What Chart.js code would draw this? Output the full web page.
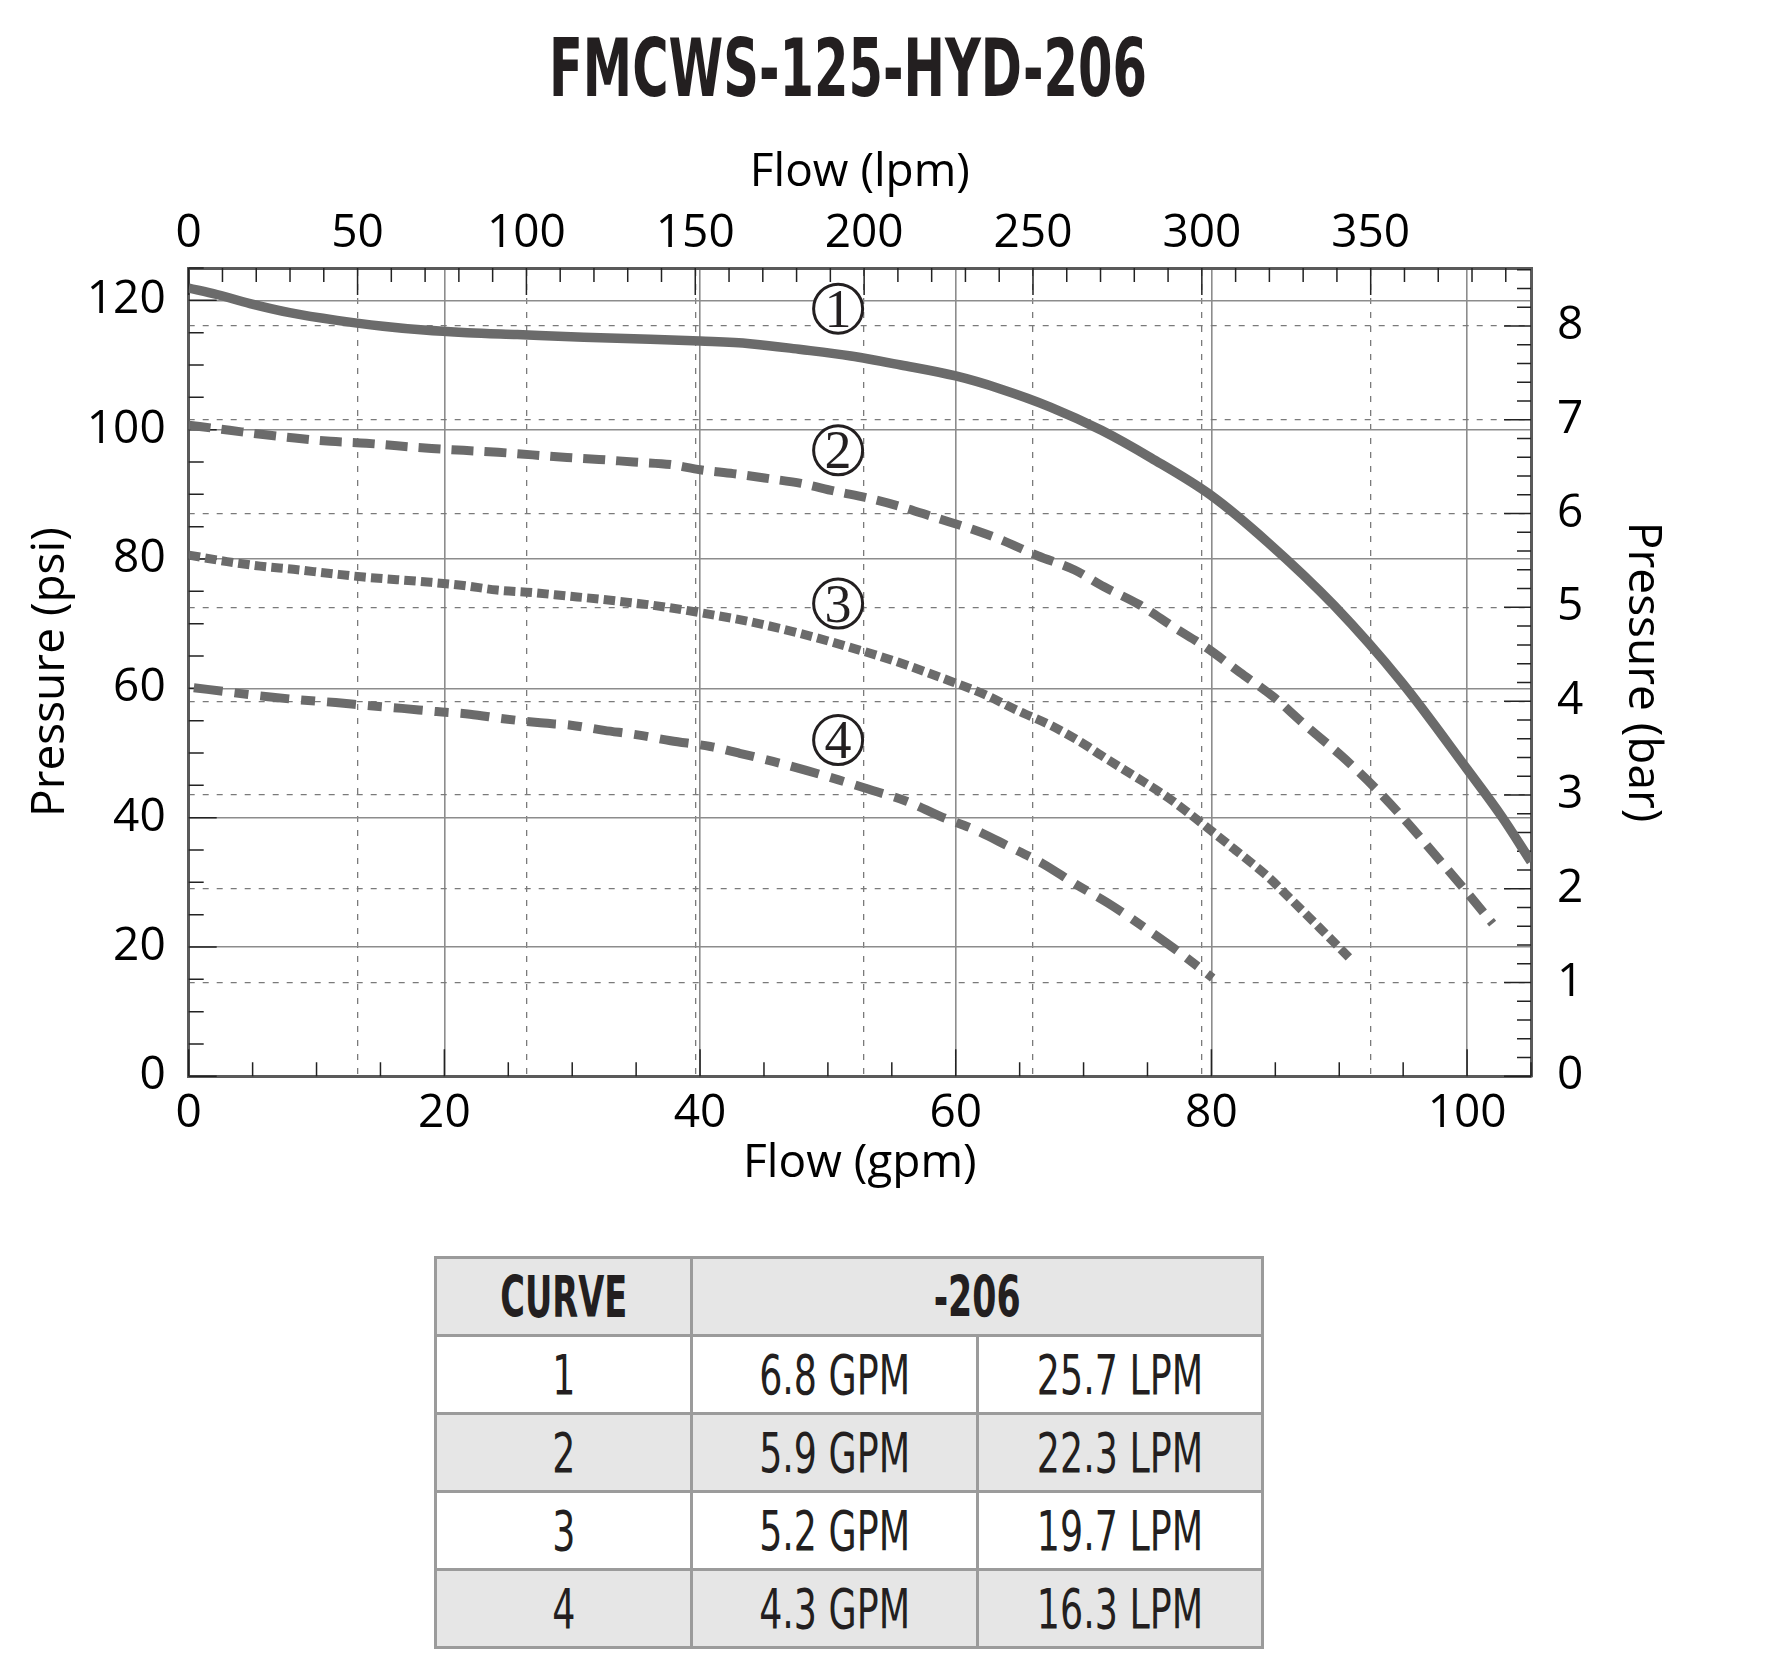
<!DOCTYPE html>
<html>
<head>
<meta charset="utf-8">
<title>FMCWS-125-HYD-206</title>
<script src="https://cdn.jsdelivr.net/npm/chart.js@4.4.1/dist/chart.umd.min.js"></script>
<style>
    body { margin: 0; background: #fff; width: 1771px; height: 1659px; position: relative; overflow: hidden; }
    #title { position: absolute; left: 848px; top: 28px; font: bold 81px 'Liberation Sans Narrow', 'DejaVu Sans Condensed', sans-serif; line-height: 1; color: #231f20; white-space: nowrap; transform-origin: center; }
    #chartBox { position: absolute; left: 0; top: 0; width: 1771px; height: 1220px; }
    #curveTable { position: absolute; left: 434px; top: 1256px; width: 827px; border-collapse: collapse; table-layout: fixed; color: #231f20; }
    #curveTable td { border: 3px solid #9b9b9b; padding: 0; height: 75px; text-align: center; vertical-align: middle; line-height: 1; font: 55px 'Liberation Sans Narrow', 'DejaVu Sans Condensed', sans-serif; }
    #curveTable tr.shade td { background: #e6e6e6; }
    #curveTable tr.head td { font-weight: bold; font-size: 57px; }
    #curveTable span { display: inline-block; white-space: nowrap; transform-origin: center; }
</style>
</head>
<body>
<div id="title">FMCWS-125-HYD-206</div>
<div id="chartBox"><canvas id="pumpChart" width="1771" height="1220"></canvas></div>
<table id="curveTable">
    <colgroup><col style="width:256px"><col style="width:286px"><col style="width:285px"></colgroup>
    <tbody id="tableBody"></tbody>
</table>
<script>
// Eixos
const gpmTicks = [0, 20, 40, 60, 80, 100];
const lpmTicks = [0, 50, 100, 150, 200, 250, 300, 350];
const psiTicks = [0, 20, 40, 60, 80, 100, 120];
const barTicks = [0, 1, 2, 3, 4, 5, 6, 7, 8];
const GPM_MAX = 105;
const PSI_MAX = 125;
const LPM_PER_GPM = 3.78541;
const PSI_PER_BAR = 14.5038;

// Curva 1 (contínua)
const curve1Gpm = [0, 2.2, 4.8, 7.9, 11.6, 15.2, 18.4, 21.8, 25.7, 30.9, 36.1, 40, 43.9, 47.9, 51.8, 55.7, 60, 63.5, 67.4, 71.4, 75.3, 80, 84.4, 89.6, 94.9, 100, 102.7, 105];
const curve1Psi = [121.9, 120.9, 119.5, 118.1, 116.9, 116.0, 115.4, 115.0, 114.7, 114.3, 114.0, 113.7, 113.3, 112.4, 111.4, 110.0, 108.3, 106.3, 103.5, 99.9, 95.6, 89.8, 82.6, 72.8, 60.9, 47.5, 40.2, 33.2];

// Curva 2 (tracejada)
const curve2Gpm = [0, 3.2, 6.0, 8.3, 11.1, 13.9, 16.3, 19.0, 21.5, 24.2, 26.9, 29.6, 32.1, 34.8, 37.7, 40, 42.6, 45.5, 47.9, 50.5, 53.2, 55.7, 58.4, 61.3, 63.5, 66.4, 69.3, 71.6, 74.3, 77.1, 79.6, 82.2, 84.9, 87.4, 90.2, 92.9, 95.3, 97.6, 99.8, 102.0];
const curve2Psi = [100.7, 99.9, 99.2, 98.7, 98.2, 97.9, 97.5, 97.1, 96.8, 96.5, 96.1, 95.7, 95.4, 95.0, 94.6, 93.8, 93.2, 92.4, 91.7, 90.5, 89.4, 88.1, 86.4, 84.6, 83.0, 80.5, 78.3, 75.7, 73.0, 69.4, 66.3, 62.5, 58.6, 54.2, 49.5, 44.4, 39.3, 34.0, 28.9, 23.6];

// Curva 3 (pontilhada)
const curve3Gpm = [0, 3.0, 5.6, 8.2, 10.9, 13.7, 16.3, 18.9, 21.5, 24.1, 26.9, 29.5, 32.1, 34.8, 36.1, 40, 43.9, 47.6, 51.8, 55.4, 59.6, 62.2, 64.8, 67.5, 70.1, 71.4, 74.0, 76.6, 79.2, 81.8, 84.4, 86.0, 88.5, 91.0];
const curve3Psi = [80.6, 79.6, 78.9, 78.4, 77.8, 77.2, 76.8, 76.4, 75.9, 75.2, 74.8, 74.3, 73.8, 73.2, 72.9, 71.7, 70.3, 68.6, 66.3, 64.1, 61.1, 59.1, 56.6, 54.2, 51.3, 49.6, 46.4, 43.1, 39.2, 35.1, 30.9, 27.8, 22.9, 17.9];

// Curva 4 (traço-ponto)
const curve4Gpm = [0.4, 3.6, 6.2, 8.8, 11.5, 14.2, 16.7, 19.4, 22.0, 24.6, 27.3, 29.9, 32.5, 35.1, 37.7, 40.8, 43.0, 45.7, 48.3, 50.9, 53.5, 56.2, 58.8, 61.3, 64.1, 66.8, 69.3, 71.9, 74.7, 77.4, 80.1];
const curve4Psi = [60.1, 59.3, 58.7, 58.2, 57.8, 57.3, 56.9, 56.4, 56.0, 55.3, 54.7, 54.3, 53.5, 52.8, 51.9, 51.0, 50.0, 48.7, 47.3, 45.8, 44.2, 42.5, 40.2, 38.3, 35.6, 32.9, 29.8, 26.8, 23.1, 19.3, 15.2];

// Marcadores das curvas
const curveNames = ['1', '2', '3', '4'];
const markerGpm = [50.8, 50.8, 50.8, 50.8];
const markerPsi = [118.7, 96.8, 73.1, 52.0];

// Tabela
const tableCurves = ['1', '2', '3', '4'];
const tableGpm = ['6.8 GPM', '5.9 GPM', '5.2 GPM', '4.3 GPM'];
const tableLpm = ['25.7 LPM', '22.3 LPM', '19.7 LPM', '16.3 LPM'];

const FONT = "'Open Sans', 'Noto Sans', sans-serif";
const CURVE_COLOR = '#6b6b6b';
const SOLID_GRID = '#8c8c8c';
const DASH_GRID = '#7a7a7a';
const FRAME = '#5a5a5a';

document.addEventListener('DOMContentLoaded', function() {
    buildTable();
    fitTexts();
    initChart();
});

function toPoints(xs, ys) {
    return xs.map((x, i) => ({ x: x, y: ys[i] }));
}

function fixedSize(size) {
    return function(scale) {
        if (scale.isHorizontal()) {
            scale.height = size;
        } else {
            scale.width = size;
        }
    };
}

function setTicks(values) {
    return function(scale) {
        scale.ticks = values.map(v => ({ value: v }));
    };
}

function axis(position, min, max, ticks, size, title, titlePad, tickPad, gridColor, dash) {
    return {
        type: 'linear',
        position: position,
        min: min,
        max: max,
        afterBuildTicks: setTicks(ticks),
        afterFit: fixedSize(size),
        grid: { color: gridColor, lineWidth: dash ? 1.3 : 1.6, drawTicks: false },
        border: { color: FRAME, width: 3, dash: dash || [] },
        ticks: { color: '#000', padding: tickPad, maxRotation: 0, autoSkip: false, font: { family: FONT, size: 46, lineHeight: 1.2 } },
        title: { display: true, text: title, color: '#000', padding: titlePad, font: { family: FONT, size: 46, lineHeight: 1.2 } }
    };
}

// Marcas de escala voltadas para dentro
const axisTicksPlugin = {
    id: 'axisTicks',
    beforeDatasetsDraw(chart) {
        const { ctx, chartArea: a, scales } = chart;
        ctx.save();
        ctx.strokeStyle = '#222';
        ctx.lineWidth = 1.5;
        ctx.beginPath();
        for (let i = 0; i * 5 <= PSI_MAX; i++) {
            const y = scales.y.getPixelForValue(i * 5);
            ctx.moveTo(a.left, y);
            ctx.lineTo(a.left + (i % 4 === 0 ? 28 : 15), y);
        }
        for (let i = 0; i * 0.2 <= PSI_MAX / PSI_PER_BAR; i++) {
            const y = scales.y2.getPixelForValue(i * 0.2);
            ctx.moveTo(a.right, y);
            ctx.lineTo(a.right - (i % 5 === 0 ? 27 : 14), y);
        }
        for (let i = 0; i * 5 <= GPM_MAX; i++) {
            const x = scales.x.getPixelForValue(i * 5);
            ctx.moveTo(x, a.bottom);
            ctx.lineTo(x, a.bottom - (i % 4 === 0 ? 27 : 14));
        }
        for (let i = 0; i * 10 <= GPM_MAX * LPM_PER_GPM; i++) {
            const x = scales.x2.getPixelForValue(i * 10);
            ctx.moveTo(x, a.top);
            ctx.lineTo(x, a.top + (i % 5 === 0 ? 27 : 14));
        }
        ctx.stroke();
        ctx.restore();
    }
};

// Números circulados das curvas
const curveMarkersPlugin = {
    id: 'curveMarkers',
    afterDatasetsDraw(chart) {
        const { ctx, scales: { x, y } } = chart;
        ctx.save();
        ctx.lineWidth = 3;
        ctx.strokeStyle = '#231f20';
        ctx.font = "54px 'Liberation Serif', 'DejaVu Serif', serif";
        ctx.textAlign = 'center';
        ctx.textBaseline = 'alphabetic';
        curveNames.forEach((name, i) => {
            const px = x.getPixelForValue(markerGpm[i]);
            const py = y.getPixelForValue(markerPsi[i]);
            ctx.beginPath();
            ctx.arc(px, py, 24.5, 0, Math.PI * 2);
            ctx.fillStyle = '#fff';
            ctx.fill();
            ctx.stroke();
            ctx.fillStyle = '#231f20';
            ctx.fillText(name, px, py + 18);
        });
        ctx.restore();
    }
};

function curve(xs, ys, dash, width) {
    return {
        data: toPoints(xs, ys),
        borderColor: CURVE_COLOR,
        borderWidth: width,
        borderDash: dash,
        borderCapStyle: 'butt',
        borderJoinStyle: 'round',
        pointRadius: 0,
        fill: false,
        cubicInterpolationMode: 'monotone',
        xAxisID: 'x',
        yAxisID: 'y'
    };
}

function initChart() {
    const ctx = document.getElementById('pumpChart').getContext('2d');
    new Chart(ctx, {
        type: 'line',
        data: {
            datasets: [
                curve(curve1Gpm, curve1Psi, [], 9.5),
                curve(curve2Gpm, curve2Psi, [22, 11], 9),
                curve(curve3Gpm, curve3Psi, [11.5, 5.2], 9),
                curve(curve4Gpm, curve4Psi, [29, 12, 14, 12], 9)
            ]
        },
        options: {
            responsive: false,
            animation: false,
            layout: { padding: 0 },
            plugins: { legend: { display: false }, tooltip: { enabled: false } },
            scales: {
                x: axis('bottom', 0, GPM_MAX, gpmTicks, 143.7, 'Flow (gpm)', { top: 0, bottom: 28.4 }, 10, SOLID_GRID),
                x2: axis('top', 0, GPM_MAX * LPM_PER_GPM, lpmTicks, 268, 'Flow (lpm)', { top: 145.4, bottom: 0 }, 6.5, DASH_GRID, [6, 8]),
                y: axis('left', 0, PSI_MAX, psiTicks, 188.7, 'Pressure (psi)', { top: 23.4, bottom: 0 }, 23, SOLID_GRID),
                y2: axis('right', 0, PSI_MAX / PSI_PER_BAR, barTicks, 240, 'Pressure (bar)', { top: 101.4, bottom: 0 }, 26, DASH_GRID, [6, 8])
            }
        },
        plugins: [axisTicksPlugin, curveMarkersPlugin]
    });
}

// Tabela de curvas
function buildTable() {
    const body = document.getElementById('tableBody');
    let html = '<tr class="head shade"><td><span data-w="127">CURVE</span></td><td colspan="2"><span data-w="87">-206</span></td></tr>';
    tableCurves.forEach((c, i) => {
        const cls = i % 2 === 1 ? ' class="shade"' : '';
        html += `<tr${cls}><td><span class="row">${c}</span></td><td><span class="row">${tableGpm[i]}</span></td><td><span class="row">${tableLpm[i]}</span></td></tr>`;
    });
    body.innerHTML = html;
}

// Ajusta a largura dos textos condensados
function fitTexts() {
    const title = document.getElementById('title');
    const tw = title.getBoundingClientRect().width;
    title.style.transform = `translateX(-50%) scaleX(${598 / tw})`;

    document.querySelectorAll('#curveTable span[data-w]').forEach(el => {
        el.style.transform = `scaleX(${el.dataset.w / el.getBoundingClientRect().width})`;
    });

    const rows = document.querySelectorAll('#curveTable span.row');
    const ref = rows[1].getBoundingClientRect().width;
    const k = 151 / ref;
    rows.forEach(el => { el.style.transform = `scaleX(${k})`; });
}
</script>
</body>
</html>
